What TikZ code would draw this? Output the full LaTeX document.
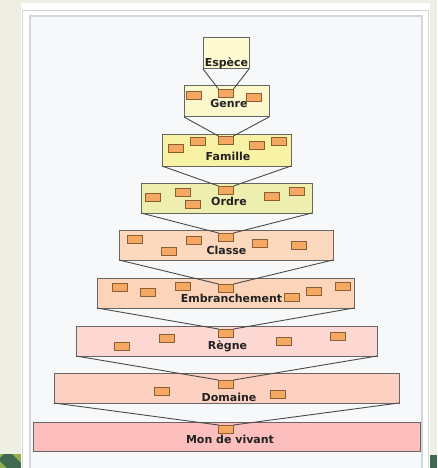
\documentclass[tikz,border=0pt]{standalone}
\usepackage{fontspec}
\setmainfont{DejaVu Sans}
\definecolor{pagebg}{HTML}{EEEFE2}
\definecolor{framegray}{HTML}{D3D6DB}
\definecolor{innerbg}{HTML}{F7F8FA}
\definecolor{lightgreen}{HTML}{8DAF4C}
\definecolor{darkgreen}{HTML}{3F6A50}
\definecolor{espfill}{HTML}{FEFAD2}
\definecolor{genfill}{HTML}{FCF8CC}
\definecolor{famfill}{HTML}{F8F3A4}
\definecolor{ordfill}{HTML}{EEEEAE}
\definecolor{clafill}{HTML}{FCD8BE}
\definecolor{embfill}{HTML}{FBD4B9}
\definecolor{regfill}{HTML}{FDD8D3}
\definecolor{domfill}{HTML}{FCD1C2}
\definecolor{monfill}{HTML}{FDBEBE}
\definecolor{sbfill}{HTML}{F5A862}
\definecolor{sbdraw}{HTML}{8B5E34}
\definecolor{boxdraw}{HTML}{666666}
\definecolor{linkcol}{HTML}{4A4A4A}
\definecolor{txtcol}{HTML}{222222}
\tikzset{
  bigbox/.style={draw=boxdraw, line width=1pt},
  sb/.style={draw=sbdraw, fill=sbfill, line width=0.8pt, minimum width=15pt, minimum height=8pt, inner sep=0pt, outer sep=0pt},
  lvltext/.style={text=txtcol, font=\fontsize{11}{13}\selectfont\bfseries, inner sep=0pt, anchor=base},
  link/.style={draw=linkcol, line width=0.9pt}
}
\newcommand{\lvlbox}[6]{% name, left, top, right, bottom, fill
  \path[bigbox, fill=#6] (#2,#3) rectangle (#4,#5);
  \coordinate (#1-sw) at (#2,#5);
  \coordinate (#1-se) at (#4,#5);
}
\begin{document}
\begin{tikzpicture}[x=1pt,y=-1pt]
\useasboundingbox (0,0) rectangle (437,468);
% page background and card
\fill[pagebg] (0,0) rectangle (437,468);
\fill[lightgreen] (0,454) rectangle (21,468);
\fill[darkgreen] (0,458) -- (4,454) -- (12,454) -- (21,463) -- (21,468) -- (7,468) -- (0,461) -- cycle;
\fill[darkgreen] (430,455) rectangle (437,468);
\fill[white] (21,3) rectangle (430,468);
\draw[framegray, line width=1pt] (22.5,470) -- (22.5,11) -- (428,11) -- (428,470);
\fill[innerbg] (30,16) rectangle (422,468);
\draw[framegray, line width=1.2pt] (30,470) -- (30,16) -- (422,16) -- (422,470);

% level boxes
\lvlbox{esp}{203}{38}{249}{69}{espfill}
\lvlbox{gen}{184}{86}{269}{117}{genfill}
\lvlbox{fam}{162}{134}{291}{166}{famfill}
\lvlbox{ord}{141}{183}{312}{213}{ordfill}
\lvlbox{cla}{119}{230}{333}{260}{clafill}
\lvlbox{emb}{97}{278}{354}{308}{embfill}
\lvlbox{reg}{76}{326}{377}{356}{regfill}
\lvlbox{dom}{54}{373}{399}{403}{domfill}
\lvlbox{mon}{33}{422}{420}{451}{monfill}

% small boxes: Genre
\node[sb] (gen0) at (226,93) {};
\node[sb] (gen1) at (194,95) {};
\node[sb] (gen2) at (254,97) {};
% Famille
\node[sb] (fam0) at (226,140) {};
\node[sb] (fam1) at (176,148) {};
\node[sb] (fam2) at (198,141) {};
\node[sb] (fam3) at (257,145) {};
\node[sb] (fam4) at (279,141) {};
% Ordre
\node[sb] (ord0) at (226,190) {};
\node[sb] (ord1) at (153,197) {};
\node[sb] (ord2) at (183,192) {};
\node[sb] (ord3) at (193,204) {};
\node[sb] (ord4) at (272,196) {};
\node[sb] (ord5) at (297,191) {};
% Classe
\node[sb] (cla0) at (226,237) {};
\node[sb] (cla1) at (135,239) {};
\node[sb] (cla2) at (169,251) {};
\node[sb] (cla3) at (194,240) {};
\node[sb] (cla4) at (260,243) {};
\node[sb] (cla5) at (299,245) {};
% Embranchement
\node[sb] (emb0) at (226,288) {};
\node[sb] (emb1) at (120,287) {};
\node[sb] (emb2) at (148,292) {};
\node[sb] (emb3) at (183,286) {};
\node[sb] (emb5) at (314,291) {};
\node[sb] (emb6) at (343,286) {};
% Regne
\node[sb] (reg0) at (226,333) {};
\node[sb] (reg1) at (122,346) {};
\node[sb] (reg2) at (167,338) {};
\node[sb] (reg3) at (284,341) {};
\node[sb] (reg4) at (338,336) {};
% Domaine
\node[sb] (dom0) at (226,384) {};
\node[sb] (dom1) at (162,391) {};
\node[sb] (dom2) at (278,394) {};
% Monde vivant
\node[sb] (mon0) at (226,429) {};

% connectors
\draw[link] (esp-sw) -- (gen0.north west) (esp-se) -- (gen0.north east);
\draw[link] (gen-sw) -- (fam0.north west) (gen-se) -- (fam0.north east);
\draw[link] (fam-sw) -- (ord0.north west) (fam-se) -- (ord0.north east);
\draw[link] (ord-sw) -- (cla0.north west) (ord-se) -- (cla0.north east);
\draw[link] (cla-sw) -- (emb0.north west) (cla-se) -- (emb0.north east);
\draw[link] (emb-sw) -- (reg0.north west) (emb-se) -- (reg0.north east);
\draw[link] (reg-sw) -- (dom0.north west) (reg-se) -- (dom0.north east);
\draw[link] (dom-sw) -- (mon0.north west) (dom-se) -- (mon0.north east);

% labels
\node[lvltext] (tesp) at (226.5,67) {Espèce};
\node[lvltext] (tgen) at (229,108) {Genre};
\node[lvltext] (tfam) at (228,160) {Famille};
\node[lvltext] (tord) at (229,205) {Ordre};
\node[lvltext] (tcla) at (226.5,254) {Classe};
\node[lvltext] (temb) at (231.5,302) {Embranchement};
\node[lvltext] (treg) at (227.5,349) {Règne};
\node[lvltext] (tdom) at (229,401) {Domaine};
\node[lvltext] (tmon) at (230,443.5) {Mon de vivant};
% small box overlapping the Embranchement label
\node[sb] (emb4) at (292,297) {};
\end{tikzpicture}
\end{document}
